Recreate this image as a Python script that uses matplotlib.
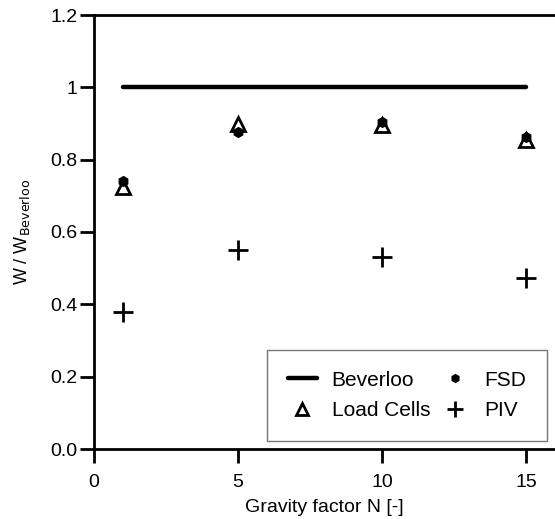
import numpy as np
import matplotlib
matplotlib.use('Agg')
import matplotlib.pyplot as plt

plt.rcParams['font.family'] = ['Liberation Sans', 'DejaVu Sans']

# data
gravity = [1, 5, 10, 15]
beverloo = [1.0, 1.0, 1.0, 1.0]
load_cells = [0.725, 0.900, 0.895, 0.853]
fsd = [0.742, 0.876, 0.903, 0.863]
piv = [0.379, 0.551, 0.530, 0.473]

yticks = [0.0, 0.2, 0.4, 0.6, 0.8, 1.0, 1.2]
ytick_labels = ['0.0', '0.2', '0.4', '0.6', '0.8', '1', '1.2']
xticks = [0, 5, 10, 15]

fig = plt.figure(figsize=(5.55, 5.19), dpi=100)
ax = fig.add_axes([94/555, (519-449)/519, 1 - 94/555, (449-15)/519])

ax.plot(gravity, beverloo, '-', color='black', lw=3.2, solid_capstyle='round', label='Beverloo')
ax.plot(gravity, load_cells, '^', ms=10.5, mfc='white', mec='black', mew=2, ls='none', label='Load Cells')
ax.plot(gravity, fsd, 'h', ms=7, color='black', ls='none', label='FSD')
ax.plot(gravity, piv, '+', ms=14, mew=2, color='black', ls='none', label='PIV')

ax.set_xlim(0, 16.0)
ax.set_ylim(0, 1.2)
ax.set_xticks(xticks)
ax.set_yticks(yticks)
ax.set_yticklabels(ytick_labels)
ax.spines['right'].set_visible(False)
for s in ['left', 'bottom', 'top']:
    ax.spines[s].set_linewidth(2)
ax.tick_params(direction='out', length=10, width=2, labelsize=14, pad=2)
ax.tick_params(axis='x', pad=8)

ax.set_xlabel('Gravity factor N [-]', fontsize=14, labelpad=6)
ax.set_ylabel(r'W / W$_{\mathrm{Beverloo}}$', fontsize=13, labelpad=13)

leg = ax.legend(ncol=2, loc='lower right', fontsize=15, frameon=True, fancybox=False, edgecolor='#555555',
                handlelength=1.4, handletextpad=0.7, columnspacing=0.5, borderpad=1.0,
                labelspacing=0.55, markerscale=0.8, borderaxespad=0)
leg.get_frame().set_linewidth(1)
leg.set_bbox_to_anchor((547/555, (519-441)/519), transform=fig.transFigure)

fig.savefig('out.png', dpi=100)
